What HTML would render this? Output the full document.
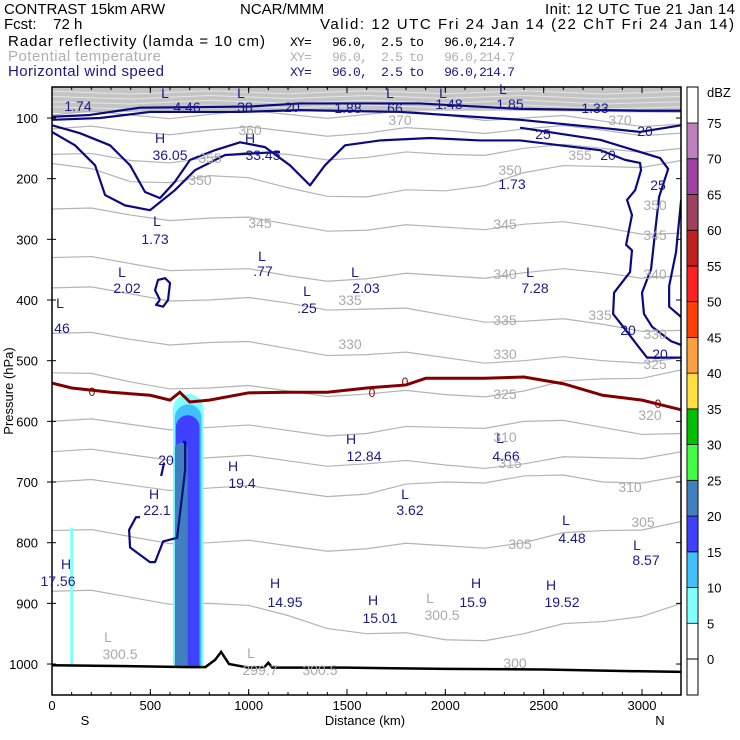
<!DOCTYPE html>
<html><head><meta charset="utf-8"><style>
body{margin:0;background:#fff;}
svg{display:block;font-family:"Liberation Sans",sans-serif;}
.hd{font-size:15px;fill:#000;}
.mono{font-family:"Liberation Mono",monospace;font-size:13px;white-space:pre;}
.bl{fill:#1a1a8c;font-size:14px;text-anchor:middle;}
.gr{fill:#aaa;font-size:14px;text-anchor:middle;}
.tk{font-size:13px;fill:#000;}
</style></head><body>
<svg id="chart" width="740" height="740" viewBox="0 0 740 740" xmlns="http://www.w3.org/2000/svg">
<g>
<text class="hd" x="4" y="14">CONTRAST 15km ARW</text>
<text class="hd" x="240" y="14">NCAR/MMM</text>
<text class="hd" x="545" y="14" textLength="190">Init: 12 UTC Tue 21 Jan 14</text>
<text class="hd" x="4" y="29">Fcst:&#160;&#160;&#160;&#160;72 h</text>
<text class="hd" x="320" y="29" textLength="414">Valid: 12 UTC Fri 24 Jan 14 (22 ChT Fri 24 Jan 14)</text>
<text class="hd" x="8" y="46" textLength="257">Radar reflectivity (lamda = 10 cm)</text>
<text class="mono" x="290" y="46" textLength="225">XY=   96.0,  2.5 to   96.0,214.7</text>
<text class="hd" x="8" y="61" style="fill:#b0b0b0" textLength="153">Potential temperature</text>
<text class="mono" x="290" y="61" style="fill:#b0b0b0" textLength="225">XY=   96.0,  2.5 to   96.0,214.7</text>
<text class="hd" x="8" y="76" style="fill:#1a1a8c" textLength="156">Horizontal wind speed</text>
<text class="mono" x="290" y="76" style="fill:#1a1a8c" textLength="225">XY=   96.0,  2.5 to   96.0,214.7</text>
</g>
<g id="plot"></g>
<g id="labels">
<g>
<text class="bl" x="165" y="98">L</text><text class="bl" x="241" y="98">L</text><text class="bl" x="390" y="98">L</text><text class="bl" x="443" y="98">L</text><text class="bl" x="503" y="94">L</text>
<text class="bl" x="78" y="111">1.74</text><text class="bl" x="187" y="112">4.46</text><text class="bl" x="243" y="112">.38</text><text class="bl" x="292" y="112">20</text><text class="bl" x="348" y="113">1.88</text><text class="bl" x="393" y="113">.66</text><text class="bl" x="449" y="109">1.48</text><text class="bl" x="510" y="109">1.85</text><text class="bl" x="595" y="113">1.33</text>
<text class="bl" x="160" y="143">H</text><text class="bl" x="170" y="160">36.05</text><text class="bl" x="250" y="143">H</text><text class="bl" x="263" y="160">33.45</text>
<text class="bl" x="543" y="139">25</text><text class="bl" x="645" y="136">20</text><text class="bl" x="608" y="160">20</text><text class="bl" x="658" y="190">25</text><text class="bl" x="512" y="189">1.73</text>
<text class="bl" x="157" y="226">L</text><text class="bl" x="155" y="244">1.73</text>
<text class="bl" x="262" y="261">L</text><text class="bl" x="263" y="276">.77</text>
<text class="bl" x="122" y="277">L</text><text class="bl" x="127" y="293">2.02</text>
<text class="bl" x="355" y="277">L</text><text class="bl" x="366" y="293">2.03</text>
<text class="bl" x="530" y="277">L</text><text class="bl" x="535" y="293">7.28</text>
<text class="bl" x="307" y="296">L</text><text class="bl" x="307" y="313">.25</text>
<text class="bl" x="60" y="308">L</text><text class="bl" x="60" y="333">.46</text>
<text class="bl" x="628" y="335">20</text><text class="bl" x="660" y="359">20</text>
<text class="bl" x="351" y="444">H</text><text class="bl" x="364" y="461">12.84</text>
<text class="bl" x="500" y="443">L</text><text class="bl" x="506" y="461">4.66</text>
<text class="bl" x="166" y="465">20</text>
<text class="bl" x="233" y="471">H</text><text class="bl" x="242" y="488">19.4</text>
<text class="bl" x="154" y="499">H</text><text class="bl" x="157" y="515">22.1</text>
<text class="bl" x="405" y="499">L</text><text class="bl" x="410" y="515">3.62</text>
<text class="bl" x="566" y="525">L</text><text class="bl" x="572" y="543">4.48</text>
<text class="bl" x="637" y="550">L</text><text class="bl" x="646" y="565">8.57</text>
<text class="bl" x="66" y="569">H</text><text class="bl" x="58" y="586">17.56</text>
<text class="bl" x="275" y="588">H</text><text class="bl" x="285" y="607">14.95</text>
<text class="bl" x="373" y="605">H</text><text class="bl" x="380" y="623">15.01</text>
<text class="bl" x="476" y="588">H</text><text class="bl" x="473" y="607">15.9</text>
<text class="bl" x="551" y="590">H</text><text class="bl" x="562" y="607">19.52</text>
</g>
<g>
<text class="gr" x="400" y="125">370</text><text class="gr" x="620" y="125">370</text><text class="gr" x="250" y="135">360</text><text class="gr" x="210" y="163">355</text><text class="gr" x="580" y="160">355</text>
<text class="gr" x="200" y="185">350</text><text class="gr" x="510" y="175">350</text><text class="gr" x="655" y="210">350</text>
<text class="gr" x="260" y="228">345</text><text class="gr" x="505" y="229">345</text><text class="gr" x="655" y="240">345</text>
<text class="gr" x="505" y="279">340</text><text class="gr" x="655" y="279">340</text>
<text class="gr" x="350" y="305">335</text><text class="gr" x="505" y="325">335</text><text class="gr" x="600" y="320">335</text>
<text class="gr" x="350" y="349">330</text><text class="gr" x="505" y="359">330</text><text class="gr" x="655" y="339">330</text>
<text class="gr" x="505" y="399">325</text><text class="gr" x="655" y="369">325</text><text class="gr" x="650" y="420">320</text>
<text class="gr" x="505" y="442">310</text><text class="gr" x="510" y="468">315</text><text class="gr" x="630" y="492">310</text>
<text class="gr" x="520" y="549">305</text><text class="gr" x="643" y="527">305</text>
<text class="gr" x="108" y="642">L</text><text class="gr" x="120" y="659">300.5</text><text class="gr" x="251" y="658">L</text><text class="gr" x="260" y="675">299.7</text><text class="gr" x="320" y="675">300.5</text><text class="gr" x="430" y="603">L</text><text class="gr" x="442" y="620">300.5</text><text class="gr" x="515" y="668">300</text>
</g>
<g>
<text x="92" y="396" style="fill:#800000;font-size:12px" text-anchor="middle">0</text><text x="372" y="397" style="fill:#800000;font-size:12px" text-anchor="middle">0</text><text x="405" y="386" style="fill:#800000;font-size:12px" text-anchor="middle">0</text><text x="658" y="408" style="fill:#800000;font-size:12px" text-anchor="middle">0</text>
</g>
</g>
<g>
<text x="365" y="725" class="tk" text-anchor="middle">Distance (km)</text>
<text x="85" y="725" class="tk" text-anchor="middle">S</text>
<text x="660" y="725" class="tk" text-anchor="middle">N</text>
<text transform="translate(13,391) rotate(-90)" class="tk" text-anchor="middle">Pressure (hPa)</text>
</g>
</svg>
<script>
const NS="http://www.w3.org/2000/svg";
const X0=52,X1=681,Y0=87,Y1=695;
function xs(d){return 52+d*0.19667;}
function ys(p){return 118+(p-100)*0.6067;}
// ---- data ----
const xTicks=[0,500,1000,1500,2000,2500,3000];
const yTicks=[100,200,300,400,500,600,700,800,900,1000];
const dbzLevels=[0,5,10,15,20,25,30,35,40,45,50,55,60,65,70,75];
const dbzColors=["#ffffff","#80ffff","#40c0ff","#4040ff","#4080c0","#40ff40","#00c000","#ffe040","#ffa040","#ff4000","#ff2020","#c02020","#a04060","#a040a0","#c080c0"];
const thetaDist=[0,400,800,1200,1600,2000,2400,2800,3200];
const theta370=[95,95,94,94,94,95,100,105,110];
const theta360=[118,122,120,122,125,120,118,120,125];
const theta355=[160,170,165,160,165,160,150,150,150];
const theta350=[175,205,195,215,230,220,190,180,170];
const theta345=[250,260,265,275,285,280,275,280,290];
const theta340=[330,340,350,360,365,360,355,355,360];
const theta335=[380,390,400,405,415,425,435,440,450];
const theta330=[455,465,470,480,490,495,500,500,495];
const theta325=[520,535,545,550,555,556,550,530,515];
const theta320=[600,605,610,615,620,610,600,610,620];
const theta315=[650,655,660,665,670,672,670,660,650];
const theta310=[700,705,710,715,720,700,690,700,690];
const theta305=[780,790,800,805,810,805,800,780,765];
const theta300=[880,890,900,920,950,960,950,930,900];
const bandBottom=[92,90,88,88,88,88,88,90,92];
const frzDist=[0,100,300,500,600,650,700,800,1000,1200,1400,1600,1800,1900,2200,2400,2600,2800,3000,3200];
const frzP=[537,545,552,557,565,552,568,565,553,552,552,545,540,529,529,527,538,557,565,581];
const groundDist=[0,500,700,780,830,860,900,1000,1080,1100,1120,1500,2000,2500,3000,3200];
const groundP=[1002,1004,1005,1005,993,980,1000,1006,1005,998,1006,1006,1008,1009,1012,1013];
const reflLeft=[615,625,630,625];
const reflRight=[770,760,750,690];
const reflTop=[555,572,590,635];
const reflColor=[1,2,3,4];
const stripDist=[100]; const stripTop=[775];
const windW1=[[0,98],[193,95],[447,83],[1007,81],[1261,76],[1871,76],[2380,85],[2990,88],[3199,88]];
const windW2=[[0,103],[244,100],[498,90],[956,90],[1261,87],[1770,90],[2380,103],[2787,116],[2990,123],[3199,112]];
const windW3=[[0,112],[142,125],[295,145],[397,178],[473,222],[549,232],[625,205],[702,169],[829,153],[956,140],[1083,148],[1210,178],[1312,211],[1388,178],[1490,145],[1668,137],[1922,133],[2177,137],[2380,137],[2583,145],[2787,153],[2914,169],[2990,174],[2995,186],[2965,219],[2924,235],[2949,260],[2919,309],[2949,318],[2939,354],[2858,388],[2853,423],[2904,444],[2975,474],[3026,495],[3199,495]];
const windW4=[[0,123],[117,145],[219,178],[270,227],[371,244],[498,252],[625,219],[727,186],[880,161],[1159,156]];
const windW5=[[2380,116],[2787,136],[3092,166],[3133,184],[3087,230],[3071,275],[3046,349],[3000,388],[3010,423],[3051,444],[3148,468],[3199,474]];
const windW6=[[3199,235],[3173,321],[3138,377],[3138,411],[3199,428]];
const windW7=[[549,400],[524,384],[539,367],[575,364],[600,372],[590,400],[565,411],[529,408],[549,400]];
const windW8=[[666,634],[677,634],[677,680],[656,738],[636,792],[565,798],[524,832],[498,832],[397,808],[392,779],[427,758],[448,758]];
const windW9=[[555,690],[570,668]];
// ---- drawing ----
const plot=document.getElementById('plot');
function el(t,a,p){const e=document.createElementNS(NS,t);for(const k in a)e.setAttribute(k,a[k]);(p||plot).appendChild(e);return e;}
const clip=el('clipPath',{id:'pc'});el('rect',{x:X0,y:Y0,width:X1-X0,height:Y1-Y0},clip);
const g=el('g',{'clip-path':'url(#pc)'});


let bd='M'+xs(0)+','+Y0;thetaDist.forEach((d,i)=>bd+=' L'+xs(d)+','+ys(bandBottom[i]));bd+=' L'+X1+','+Y0+'Z';
const band=el('path',{d:bd,fill:'#c4c4c4'},g);


for(let k=1;k<5;k++){let d='';thetaDist.forEach((x,i)=>d+=(i?' L':'M')+xs(x)+','+(Y0+(ys(bandBottom[i])-Y0)*k/5+((i%2)?2:-1)));const l=el('path',{d:d,fill:'none',stroke:'#e6e6e6','stroke-width':1},g);

}
const thetaSets=[theta370,theta360,theta355,theta350,theta345,theta340,theta335,theta330,theta325,theta320,theta315,theta310,theta305,theta300];
thetaSets.forEach(arr=>{let d='';thetaDist.forEach((x,i)=>{const xm=xs(x);d+=(i?' L':'M')+xm+','+ys(arr[i]);if(i<thetaDist.length-1){const xn=(xm+xs(thetaDist[i+1]))/2;d+=' L'+xn+','+(ys((arr[i]+arr[i+1])/2)+(i%2?4:-4));}});
const l=el('path',{d:d,fill:'none',stroke:'#b4b4b4','stroke-width':1.2},g);

});
// reflectivity (rounded top, flat bottom at ground)
const yGround=ys(1005);
reflLeft.forEach((l,i)=>{const x=xs(l),x2=xs(reflRight[i]),w=x2-x,r=w/2,y=ys(reflTop[i]);
const pth=el('path',{d:'M'+x+','+yGround+' L'+x+','+(y+r)+' A'+r+','+r+' 0 0 1 '+x2+','+(y+r)+' L'+x2+','+yGround+'Z',fill:dbzColors[reflColor[i]]},g);

});
stripDist.forEach((d,i)=>{const r=el('rect',{x:xs(d)-1.5,y:ys(stripTop[i]),width:3,height:yGround-ys(stripTop[i]),fill:dbzColors[1]},g);

});
let fd='';frzDist.forEach((d,i)=>fd+=(i?' L':'M')+xs(d)+','+ys(frzP[i]));
const fz=el('path',{d:fd,fill:'none',stroke:'#800000','stroke-width':3},g);


[windW1,windW2,windW3,windW4,windW5,windW6,windW7,windW8,windW9].forEach(arr=>{let d='';arr.forEach((pt,i)=>d+=(i?' L':'M')+xs(pt[0])+','+ys(pt[1]));
const l=el('path',{d:d,fill:'none',stroke:'#0a0a80','stroke-width':2.2,'stroke-linejoin':'round'},g);

});
let gd='';groundDist.forEach((d,i)=>gd+=(i?' L':'M')+xs(d)+','+ys(groundP[i]));
const gl=el('path',{d:gd,fill:'none',stroke:'#000','stroke-width':2.5},g);


const fr=el('rect',{x:X0,y:Y0,width:X1-X0,height:Y1-Y0,fill:'none',stroke:'#000','stroke-width':1.5});


xTicks.forEach(t=>{const x=xs(t);el('line',{x1:x,y1:Y1,x2:x,y2:Y1-6,stroke:'#000'});el('line',{x1:x,y1:Y0,x2:x,y2:Y0+6,stroke:'#000'});
const tx=el('text',{x:x,y:710,'text-anchor':'middle',class:'tk'});tx.textContent=t;

});
for(let t=100;t<3200;t+=100){const x=xs(t);el('line',{x1:x,y1:Y0,x2:x,y2:Y0+3,stroke:'#000'});el('line',{x1:x,y1:Y1,x2:x,y2:Y1-3,stroke:'#000'});}
yTicks.forEach(t=>{const y=ys(t);el('line',{x1:X0-5,y1:y,x2:X0+4,y2:y,stroke:'#000'});el('line',{x1:X1,y1:y,x2:X1-5,y2:y,stroke:'#000'});
const tx=el('text',{x:38,y:y+5,'text-anchor':'end',class:'tk'});tx.textContent=t;

});
const cb=el('g',{});


const cbTop=87,cbBot=695,step=(659-123)/15;
const yb=v=>659-v/5*step;
el('rect',{x:687,y:cbTop,width:11,height:cbBot-cbTop,fill:'#fff',stroke:'#000'},cb);
dbzColors.forEach((c,i)=>{if(i===0)return;const r=el('rect',{x:687,y:yb(dbzLevels[i]+5),width:11,height:step,fill:c,stroke:'#000','stroke-width':0.8},cb);

});
el('line',{x1:687,y1:yb(0),x2:698,y2:yb(0),stroke:'#000'},cb);
dbzLevels.forEach(v=>{const t=el('text',{x:707,y:yb(v)+5,class:'tk'},cb);t.textContent=v;

});
const u=el('text',{x:707,y:97,class:'tk'},cb);u.textContent='dBZ';


</script>
</body></html>
